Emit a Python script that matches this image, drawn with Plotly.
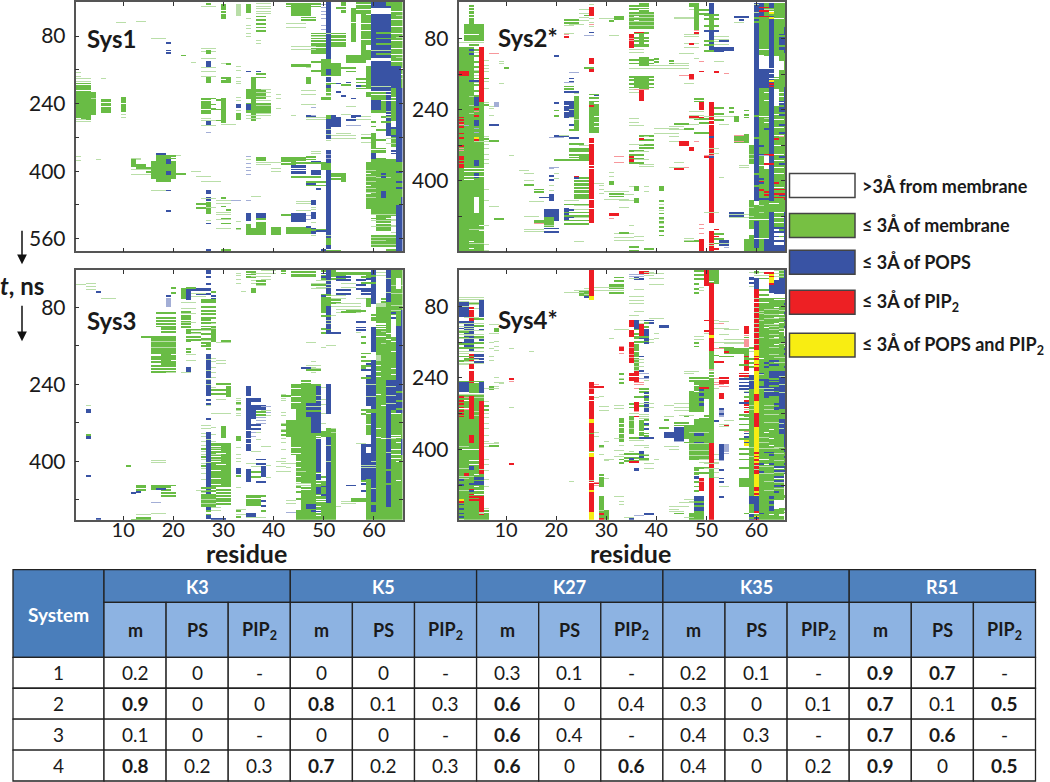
import numpy as np
import plotly.graph_objects as go

STATE = {'w':0,'g':1,'b':2,'r':3,'y':4,'G':5,'B':6,'R':7}
STATE_COLORS = ['#FFFFFF','#69BC45','#3953A4','#ED1C24','#F7EC13','#B9DEA8','#A3AED6','#F7979B']

# each run: (first residue, last residue, t start, t end, state) or (first, last, [t of short contacts], state)
SYS1 = [
(1,3,190,272,'g'),(1,4,213,264,'g'),(1,1,[167,175],'G'),(1,3,[180,186],'G'),(1,3,[194,202,208],'w'),(2,3,[274,280],'g'),(1,3,[283],'G'),(1,2,[277],'G'),
(6,7,229,260,'g'),(6,7,[237,247],'w'),(6,6,[181],'G'),(10,10,225,259,'g'),(10,10,[265,272],'G'),(10,10,[238],'w'),(4,4,[226],'G'),
(9,10,[46],'G'),(13,14,[45],'G'),(16,18,[85],'G'),(19,19,[95,112,119],'b'),(19,19,[139],'B'),(22,22,[124],'g'),(24,24,[142],'G'),(24,24,[228],'G'),
(16,20,376,417,'g'),(17,19,362,425,'g'),(17,20,[362,368],'g'),(17,18,[359],'b'),(19,19,372,380,'b'),(19,19,400,406,'b'),(1,1,[365],'G'),(5,5,[372],'G'),(1,1,[375],'G'),
(12,13,[368,372],'G'),(12,12,372,388,'g'),(13,14,382,392,'g'),(12,15,[396,407],'G'),(15,15,[390,400],'g'),(21,21,[362],'G'),(21,22,[405],'g'),(24,25,[400],'G'),(25,27,[413],'G'),(26,29,[424],'G'),(16,18,[444],'G'),(19,19,[444],'b'),(19,19,[493],'b'),
(26,28,[108,116,124],'G'),(27,27,112,120,'g'),(27,27,138,152,'b'),(26,28,[132,155,163],'G'),(27,27,178,188,'g'),(26,28,[174,190],'G'),
(26,27,226,262,'g'),(26,28,[232,240,252],'w'),(28,28,[226,240,250],'g'),(26,27,[266,275],'G'),(27,27,281,288,'b'),(26,28,[278,291],'G'),(27,27,[309],'B'),
(30,31,[145,150],'G'),(31,31,[145],'g'),(30,31,177,188,'g'),(30,30,226,285,'g'),(29,29,[230,252,278],'g'),(30,30,[240,254],'w'),(30,32,[288],'G'),(29,30,[182],'w'),
(33,33,[153,160],'G'),(33,33,[178,186,193],'G'),(33,33,[214,225,233,256,280],'G'),(33,33,240,248,'b'),(33,33,262,276,'g'),
(35,35,[163],'b'),(37,37,[163],'b'),(36,36,178,278,'g'),(35,38,206,228,'g'),(35,39,238,260,'g'),(37,39,[212,222,232,244,254,262,268],'G'),(35,35,240,252,'b'),(37,38,[168,176],'g'),(35,37,[268,274],'G'),(38,39,[206],'G'),
(41,41,[218,226,250],'G'),(44,44,[268],'G'),(47,47,178,192,'g'),(46,48,[208,218,228,242,254],'G'),(47,48,[268],'b'),(48,48,[268,248],'B'),
(44,47,[146,150],'g'),(48,50,[140,160],'g'),(47,47,[155],'G'),
(42,44,366,385,'g'),(42,44,[371,378],'w'),(45,46,[366,372],'g'),(47,48,[364,370],'g'),(48,49,[352,358],'G'),(48,49,376,380,'b'),(44,46,386,405,'b'),(48,49,399,408,'b'),(44,50,[378],'g'),(44,49,[412],'g'),(44,46,[392,399],'w'),(37,39,[370,378,385],'G'),(40,41,[370,378,392,400],'G'),(35,35,[365,380,390,398,406],'B'),(35,35,[372],'G'),(37,38,[366,372],'g'),
(47,48,[428],'b'),(47,51,[424,432],'g'),(49,49,[440],'b'),(52,54,[404,410,416],'g'),(54,54,408,425,'g'),(47,48,[420],'G'),
(27,27,445,452,'b'),(27,27,460,468,'b'),(27,27,474,500,'g'),(26,28,[464,472,486],'G'),(25,26,[486,476],'g'),(29,31,[468,476,497,503,515,525,535],'G'),(30,30,[462,482],'g'),(31,31,[490],'g'),(30,31,[510,522],'g'),(32,33,[468],'B'),(35,35,[468],'B'),(36,37,[458],'G'),(19,19,[493],'b'),(27,27,[522],'b'),(27,27,[516],'G'),(33,33,[518,538],'G'),(33,33,[535],'g'),
(35,35,500,516,'b'),(37,38,500,510,'b'),(35,38,526,550,'g'),(36,36,526,532,'w'),(37,38,[512,520],'g'),(40,41,532,550,'g'),(43,47,532,546,'g'),(44,46,498,518,'b'),(47,47,[505,515],'B'),(47,47,[530],'b'),(42,43,[503],'g'),(45,47,[470,476,484,492],'G'),
(48,48,468,478,'b'),(48,48,496,512,'b'),(48,48,534,546,'b'),(48,48,[486,490,520,553],'G'),(47,50,[538],'g'),(49,50,[540],'b'),
(27,27,584,590,'b'),(30,31,[585],'g'),(30,30,[588],'b'),(50,50,[585],'b'),(44,46,[588],'G'),(48,48,[588],'b'),
(50,50,[4,12,20,28,38,48,55,64,73,80,90],'B'),(50,50,[60,80],'G'),(51,51,0,135,'b'),(51,51,[72,86,100],'G'),(50,51,135,172,'g'),(52,53,144,172,'g'),(51,51,158,170,'b'),(51,51,178,186,'b'),(51,52,[190],'g'),(51,51,192,210,'g'),(51,51,[196,200],'b'),(51,51,[216],'g'),(51,51,[220],'G'),(50,51,[228,225],'g'),
(48,50,[72,78,84,90,96,102,108,114,118],'g'),(48,50,[80,100],'G'),(52,54,72,104,'g'),(52,54,[76,84,92,100],'w'),(44,48,[104,110],'G'),
(54,54,0,25,'g'),(54,54,[8,16],'w'),(56,56,14,92,'g'),(56,56,[46,60,74],'w'),(57,59,[0,6,12,18,24],'g'),(53,54,[12],'g'),(44,47,5,30,'g'),(43,49,[3,8],'g'),(46,48,[34,40],'g'),
(33,33,5,30,'G'),(35,35,5,24,'g'),(30,30,4,38,'g'),(30,30,[10,18,26],'w'),(37,39,[2,8,14,20,26],'G'),(35,35,[38,54,62,72,80],'G'),(37,38,[32,40,50,58,66],'g'),(37,37,[90,96],'G'),(27,27,[3],'g'),(26,28,[8],'G'),(43,46,[58,50],'G'),
(58,58,25,135,'g'),(59,59,30,100,'g'),(58,59,[50,66,88],'w'),(60,63,29,131,'b'),(64,64,40,120,'b'),(60,63,139,209,'b'),(60,63,[75,115,150,198],'G'),(61,63,[70,84,96,120],'g'),
(64,66,0,205,'g'),(60,63,0,12,'b'),(63,66,[0,4],'g'),(64,66,[20,40,56,72,90,108,122,140,156,170,190],'w'),(65,66,[30,48,82,100,130,150,180],'G'),(64,65,150,200,'b'),(65,66,[10,22],'G'),
(59,59,115,135,'g'),(55,58,126,142,'g'),(55,56,[155,163],'g'),(59,59,150,205,'g'),(57,59,[180,188,196,202],'g'),(54,55,[154],'g'),(54,55,[195],'g'),
(65,66,205,590,'b'),(64,64,205,280,'g'),(59,64,212,222,'g'),(60,64,225,260,'g'),(60,61,232,252,'b'),(63,63,213,315,'b'),(64,64,[225,240,255,290],'w'),(64,64,300,340,'g'),(62,63,[270,282],'g'),(63,63,[258,272],'G'),(60,60,311,343,'g'),(61,62,[300,325],'g'),(58,59,[312,322,332],'G'),(58,59,[320],'g'),(63,64,[322,335,345],'G'),(64,64,[350,356],'b'),(60,62,[355,350,345],'g'),(60,60,356,368,'b'),(61,62,[368],'g'),(64,64,[296,314],'b'),
(55,57,[291],'B'),(53,53,[190],'b'),(55,55,[188],'b'),(53,53,[211],'b'),(54,54,[220],'b'),(57,57,[196],'b'),(56,56,[226],'b'),(55,56,[246,228],'G'),(56,56,[270,276],'b'),(55,55,[277],'b'),(52,53,[272,282],'b'),(52,56,[305,315,322],'G'),(53,55,[310],'G'),(57,59,[270,276],'G'),(60,60,[282,292],'g'),
(59,66,378,476,'g'),(60,64,370,378,'g'),(59,60,[398,413,424,440,450,462],'G'),(59,59,[405,420,432,452],'w'),(61,63,[395,415,447],'G'),(60,60,356,368,'b'),(62,62,[404,412],'b'),(62,62,446,462,'b'),(65,66,460,590,'b'),(60,60,476,502,'g'),(61,64,476,505,'g'),(60,64,[502],'G'),(59,59,476,488,'g'),(65,65,440,478,'g'),(65,66,[400,425,438],'b'),
(61,63,507,540,'g'),(61,63,[512,522,530],'w'),(60,64,[516,530],'G'),(60,62,[510],'g'),(60,64,550,578,'g'),(60,64,[556,564,572],'G'),(64,64,[514,528,545],'G'),(63,64,[565,585],'g'),(58,61,[588],'G'),(51,51,397,582,'b'),(51,51,[552,562,568],'G'),(51,51,558,572,'g'),(50,51,378,397,'g'),(51,51,350,378,'b'),(51,51,[360,368],'B'),(51,51,[590],'g'),(51,53,[586],'g'),
(51,51,268,275,'g'),(51,53,276,295,'b'),(52,52,268,276,'b'),(51,51,295,322,'b'),(51,51,[300,312],'G'),(51,51,[326],'G'),(56,57,[268],'b'),(54,55,[265],'G'),(58,59,[270],'G'),(47,50,[272,276],'G'),
(60,63,[218,264],'w'),(62,64,[232],'w'),
]

SYS2 = [
(1,3,99,560,'g'),(4,5,222,560,'g'),(5,5,99,222,'r'),(2,5,46,84,'g'),(3,3,5,44,'g'),(3,3,[8,16,24,32],'w'),(1,5,[88],'G'),(3,4,[92],'g'),(2,4,[70,80],'w'),(1,1,[46],'G'),
(4,4,[104,118,130,142,155,168,182,196,208],'g'),(4,4,[110,150,162,178],'G'),(1,2,154,163,'r'),(3,3,[104,113],'b'),(3,4,174,177,'b'),(4,4,212,230,'b'),(4,4,264,276,'b'),(4,4,[282,290],'B'),(4,4,[302],'y'),(4,4,[307],'r'),(4,4,[245],'R'),(4,4,[237,252],'r'),(4,4,354,364,'b'),(4,4,384,392,'b'),
(1,1,[256,262,268,278,292,302,320,344,350,356,362,368],'r'),(1,1,[272,326,332],'R'),(2,5,[372,378,383,390],'w'),(2,3,[396],'w'),(4,4,437,472,'w'),(2,2,[276],'w'),(3,3,[210,230,248],'G'),
(2,2,[275],'B'),(4,5,[310],'G'),(3,5,[510,525,540],'G'),(5,5,[500,512],'w'),(3,3,[536,552],'w'),
(6,6,[128,140,146,155,177,192,225,300,310,318,326,340,352,360,420,445,490,500,525,545,556],'G'),(6,6,[168,228,304],'g'),
(7,7,[113],'R'),(8,8,[113],'R'),(8,8,222,232,'B'),(7,8,[272],'b'),(7,8,[308],'g'),(8,8,[313],'G'),(7,7,[233],'G'),(10,10,[145],'g'),(9,9,[130],'G'),(9,9,[180],'G'),(9,9,[137],'G'),(11,11,[342],'G'),(7,7,[236,253],'G'),
(20,20,[118],'b'),(20,20,[225],'b'),(20,20,[240,252],'g'),(20,20,[258],'G'),(20,20,[277],'G'),(19,21,[302],'B'),(22,23,[68,51],'G'),(22,24,[37,43],'g'),(23,25,[48],'G'),(22,22,[70],'R'),(22,22,[75],'r'),
(27,27,8,28,'r'),(25,26,[15,22,32,38],'G'),(26,26,[26],'g'),(27,27,[2,35,42,52],'G'),(27,27,[48],'R'),(27,27,[64],'b'),(26,27,[72],'B'),(27,27,125,137,'r'),(27,27,145,155,'r'),(26,27,[145],'g'),
(27,28,[205,212,220],'g'),(27,28,228,290,'g'),(27,27,[230],'r'),(27,27,[225],'g'),(28,28,[240,255,268,278],'w'),(27,27,[208],'w'),(28,28,[206],'b'),
(27,27,305,495,'r'),(27,27,[317,364,372,442,462],'w'),(23,24,[157,170],'B'),(23,23,[168,176],'b'),(22,23,[178],'B'),
(22,23,220,257,'b'),(22,24,[199],'b'),(23,24,[273],'b'),(24,24,210,282,'g'),(22,22,[230,245],'w'),(23,23,[222,238,256],'G'),(24,24,[203,262],'G'),(23,24,[284],'g'),(22,23,[186,192],'g'),
(20,22,[299],'b'),(23,24,[303],'b'),(23,26,[326,332,340,346,352],'g'),(25,26,342,354,'g'),(20,24,[352],'g'),(19,20,[370],'B'),(25,26,[320],'G'),(23,25,[316],'g'),(21,22,[298],'G'),
(24,26,392,440,'g'),(24,26,[396,404,412,420,428,436],'w'),(24,26,[400,408,416,424,432],'g'),(24,24,[390],'r'),(24,24,[392],'b'),(29,29,[410,420,428],'G'),(28,29,[400,406],'G'),(19,19,[372],'B'),(19,19,[388,396],'b'),(20,20,[385,395],'G'),
(18,20,465,482,'b'),(19,20,482,503,'b'),(18,19,482,503,'g'),(20,20,490,505,'w'),(18,20,[506,515],'b'),(18,19,[500],'G'),(19,19,430,444,'b'),(17,19,[436],'b'),(15,17,[446],'G'),(19,19,[422,410,400],'G'),
(22,22,462,487,'b'),(23,23,[465,480],'b'),(22,26,[452,470,478,488,496],'g'),(24,26,[456,464,472,482,490],'G'),(14,15,[408],'g'),(14,15,[398,385],'G'),(13,14,[376],'G'),(16,17,[418,425],'g'),(8,9,[484],'g'),(8,9,[490],'G'),(7,8,[458],'G'),(14,16,[480],'G'),(16,17,[497],'R'),(16,18,[493,488],'g'),(14,17,[510,515],'G'),(24,25,[537],'G'),(22,24,[445],'G'),
(31,31,[380,390],'G'),(31,31,401,408,'g'),(31,33,[428,434],'g'),(30,34,[424,442],'G'),(31,32,[475,477],'r'),(31,31,[484],'R'),(33,34,[445,460],'G'),(35,36,[412,445],'G'),(36,36,413,422,'g'),(36,36,441,449,'g'),(34,35,[418,430],'G'),(38,38,[412,424],'G'),(41,41,413,422,'g'),(41,41,[445,460,472,482,492,502,512,522],'g'),(41,41,[452,467,487,497],'G'),
(32,35,[518,528,535,542],'G'),(35,36,[548,556],'g'),(38,39,[553,558],'g'),(33,34,[517],'g'),(36,37,[527,535],'G'),(35,35,[500],'G'),
(35,39,20,57,'g'),(37,38,0,20,'g'),(35,36,[5,12],'g'),(35,39,[24,32,40,50],'G'),(37,38,[8,14],'w'),(36,36,[38,30],'w'),(36,38,[76,84,92,96],'g'),(37,37,70,92,'g'),(35,35,70,100,'r'),(35,35,[78,84],'R'),(35,37,[104,110],'G'),(36,38,[66],'g'),(36,37,[64],'r'),(31,32,[72],'G'),(32,33,[30,35],'g'),(31,31,[38],'g'),(29,31,[35],'G'),
(35,39,[127,135],'g'),(37,38,123,140,'g'),(35,36,[135],'G'),(35,39,[146,152],'G'),(36,38,167,190,'g'),(35,39,[164,172,180,188],'g'),(37,37,195,218,'r'),(35,36,[194,200],'G'),(37,38,[190,192],'g'),(36,38,[194],'R'),(35,36,[260,268],'G'),(37,39,[298,306,318,325],'g'),(37,37,[304],'r'),(38,38,[300,312],'G'),(35,37,[275],'G'),
(35,35,340,360,'r'),(32,33,[345,358],'R'),(35,37,[332,340,348,358],'g'),(36,38,[352,334],'G'),(37,39,[362,368],'G'),(35,37,[318],'G'),(40,40,[125,130],'g'),(43,43,[128,135],'g'),(39,46,[146,140],'G'),(40,44,[282,292],'G'),(43,45,[278,284],'G'),(43,44,[300,310],'G'),(44,45,[372],'r'),(46,46,[370,382],'R'),(43,45,[370],'G'),
(44,46,[270],'g'),(46,47,[282],'g'),(44,47,[32,35],'G'),(47,47,[5,15],'G'),(48,48,5,60,'g'),(49,50,[15,22],'g'),(47,48,[0,4],'g'),(48,48,[60],'R'),(48,48,[66],'r'),(47,48,[80],'G'),(46,48,[70,75,90,100],'G'),(47,47,[90],'r'),(45,47,[112],'G'),
(49,49,[153],'r'),(52,52,[155],'r'),(54,54,[158],'R'),(45,46,[163,170],'R'),(47,47,161,170,'r'),(47,47,[173],'R'),(46,47,[180],'G'),(44,46,[137],'G'),(48,48,[125],'G'),(49,49,[130],'R'),(52,53,[130],'G'),
(51,51,0,22,'b'),(51,51,25,60,'g'),(50,52,[25,35,50],'g'),(51,51,62,100,'b'),(51,53,[98,102,107],'b'),(53,55,[100,104],'b'),(50,51,[85,92,107],'g'),(52,54,[75,82,87,92],'G'),(53,54,[85],'b'),(50,52,[60],'b'),(56,58,[30],'b'),(57,57,[36],'b'),(56,57,[42],'G'),
(51,51,225,495,'r'),(51,51,[265,273],'w'),(49,49,225,239,'r'),(49,49,256,262,'r'),(51,51,515,560,'r'),(51,51,[540,546],'G'),(49,49,533,560,'r'),(49,49,[518,525],'R'),(46,48,[534],'g'),(46,47,[530,535],'G'),(49,49,[498,506],'R'),
(45,46,311,321,'r'),(47,47,325,332,'r'),(48,48,[310],'R'),(50,50,[345],'r'),(50,51,[342],'R'),(51,51,[300,345],'b'),(49,50,[268],'g'),(48,50,[290,260],'g'),(47,48,[272,260],'G'),(47,49,[252,245],'G'),(47,48,[255],'r'),(48,49,[214,220],'g'),(49,49,[234],'r'),(52,53,[235,248,262],'g'),(52,54,[254,258],'G'),(53,54,[272],'G'),(50,55,[255],'G'),(56,56,255,266,'g'),(55,55,[235,245],'g'),(58,58,[240,250,256],'g'),(52,53,[540,530,518],'g'),(52,52,[508,525,552,558],'r'),(53,54,535,546,'b'),(53,54,[540],'G'),(54,54,[550],'B'),(55,57,[470,473,478],'b'),(55,58,[476,482],'G'),(48,50,[490],'R'),(50,52,[470],'G'),
(56,58,300,315,'g'),(58,58,294,300,'g'),(56,57,[298,310],'R'),(59,59,320,360,'g'),(59,59,[330,340,350],'G'),(51,52,[326,338],'G'),(53,53,[382,392],'G'),(57,58,[370,365],'G'),(44,45,[358],'G'),
(60,66,0,560,'g'),(59,66,445,560,'g'),(60,60,0,447,'b'),(60,60,[180,252,302,385,410],'g'),(61,61,0,35,'b'),(62,62,20,45,'g'),(63,63,30,445,'b'),(63,63,0,10,'b'),(62,63,[10,14],'G'),(63,63,[18,46],'w'),(63,63,[20,32],'y'),(64,65,[35],'w'),(60,61,[33,40],'g'),(60,60,[2,20],'G'),(61,62,[8,16,28],'r'),
(60,63,148,190,'b'),(61,62,100,146,'g'),(61,62,[104,116,124,132],'w'),(62,62,120,147,'w'),(61,61,118,146,'w'),(64,64,120,146,'w'),(61,61,120,138,'w'),(64,65,130,150,'w'),(63,65,[146,158,168],'w'),(64,64,152,165,'w'),(65,65,150,185,'g'),(64,65,[146],'w'),(63,63,[174],'y'),(63,63,[180,186],'r'),
(66,66,55,110,'b'),(65,65,70,105,'b'),(65,66,[95,72],'g'),(66,66,190,240,'b'),(65,66,220,245,'b'),(65,65,[230],'g'),(64,65,[200,210,225,240,250,262],'w'),(62,62,[200,218,240,268,282,300,320,342],'w'),(61,62,[255,276,330,350,365],'w'),(64,64,195,230,'w'),(62,62,[260,300],'G'),
(64,65,[280,298,320,340,355,370,385,400,415],'w'),(61,62,300,360,'g'),(61,61,[320,340],'b'),(62,62,340,372,'w'),(62,63,[340,360],'r'),(61,62,[342,348],'B'),(61,61,[395,405],'b'),(65,66,[250,272,290,345,360,430],'b'),(65,65,[300,312],'R'),(62,62,[282],'b'),(64,64,[305,404],'r'),(66,66,[440],'r'),(64,66,[418,428,437],'r'),
(61,61,[400,420],'r'),(59,59,[460,480],'G'),(62,62,[425,430],'r'),(59,62,[486],'w'),(63,64,[450],'w'),(60,60,447,452,'w'),(60,60,490,550,'b'),(59,59,510,520,'w'),(59,59,[530,537],'w'),(63,66,505,560,'b'),(64,65,510,545,'w'),(64,65,[515,525,535],'b'),(65,65,[510,525],'g'),(63,63,470,505,'b'),(62,62,490,560,'g'),(62,62,530,560,'b'),(59,59,530,560,'g'),(58,59,533,560,'g'),(60,62,[530],'w'),
(61,61,[456,470],'G'),(61,62,[440],'b'),(66,66,470,510,'b'),(64,65,[470,482,494],'w'),
]

SYS3 = [
(1,2,[33],'G'),(3,4,[31,37,43],'G'),(5,5,[47],'b'),(6,8,[60],'G'),(3,3,[283],'G'),(3,3,293,299,'b'),(3,3,346,352,'b'),(3,3,[344],'g'),(3,3,[428],'b'),(5,5,518,522,'b'),(11,11,[408],'g'),(16,18,[398,403],'G'),
(13,14,[448,452,458],'g'),(12,12,[465],'b'),(13,13,[462],'b'),(16,20,[448],'g'),(16,17,450,458,'g'),(18,19,[452,458],'g'),(18,20,[464,470],'g'),(17,18,[456],'b'),(16,17,[485],'B'),(13,15,[510],'G'),(13,15,[516,520],'g'),(16,18,[508],'G'),(12,13,[520],'g'),
(16,20,140,170,'g'),(18,20,170,200,'g'),(16,18,[172,182],'g'),(16,20,[186,192,200,206,212],'g'),(16,20,[150,162],'G'),(20,20,[178,190],'w'),(14,15,[140],'g'),(18,20,[120,125,130],'g'),(17,20,[90,100,106,113,118],'g'),(19,19,[55],'b'),(19,19,60,78,'B'),(20,20,[38,48],'g'),(19,20,[214],'G'),
(22,22,40,60,'g'),(23,23,42,62,'b'),(23,24,[38],'g'),(24,27,[43],'b'),(25,27,[40,50],'b'),(24,26,[50,56],'G'),(28,28,[54,60],'b'),(28,28,[46],'g'),(22,24,[66,70],'G'),
(22,23,88,122,'g'),(22,24,[82,92,110],'G'),(22,23,[95,106,116],'w'),(23,25,[126,132,140,146],'g'),(24,27,[120,128,134],'G'),(26,27,[152,158],'g'),(23,23,[130,148,164,170],'g'),(23,24,[178,190],'G'),(23,23,205,212,'b'),(22,23,[214],'G'),
(27,27,[2,6,16],'b'),(27,27,[30],'b'),(26,28,[62,68,78,86,92,100,110,118],'g'),(26,27,[104,124,134,144],'g'),(27,27,[60],'w'),(28,28,120,150,'g'),(27,27,[156,164],'g'),(26,27,[148],'G'),(30,31,[148],'g'),(29,31,[152],'G'),(28,28,[112,125],'G'),
(27,27,178,225,'b'),(27,27,[188,210],'G'),(28,28,[186,192,205,214],'G'),(29,30,[190,196],'G'),(27,27,232,262,'b'),(27,27,[228,240],'G'),(27,27,[270,278],'b'),(28,28,[225,246],'G'),(27,27,[310],'b'),(27,27,[282],'G'),(26,27,[325,330,340],'G'),
(27,27,338,505,'b'),(27,27,[355,402],'G'),(26,26,[342,348,358,366,378,384,396,405,415,425,436,450,465],'G'),(26,26,[372,388,408],'g'),(28,28,[328,345,358],'G'),(31,31,245,265,'g'),(28,30,[250,258],'g'),(29,30,[240,270],'G'),(30,30,326,350,'g'),(28,31,[286,300],'G'),(29,31,[238],'g'),
(28,31,362,452,'g'),(28,29,[368,376,388,400,418,434,446],'w'),(28,29,[372,384,396],'G'),(29,30,[382,406],'w'),(29,31,[458,464,470,476],'g'),(28,29,[482,495,500],'G'),(26,28,468,492,'g'),(29,31,[480,486],'g'),(26,28,[478,486],'G'),(27,27,[500,510,516],'g'),(26,28,[455,460],'g'),(25,26,[460],'G'),
(27,27,[512,517],'b'),(28,30,[519],'b'),(29,30,[505],'G'),(33,33,[500,514],'g'),(33,33,[268,273,280,287,294,300,304],'G'),(33,33,[276,290],'g'),(33,33,348,357,'g'),(33,33,[370,385,392,400],'G'),(33,33,415,425,'b'),(33,33,[428],'g'),(33,33,[455],'G'),(33,34,[498,505,511],'G'),
(33,33,[8,14,22,30],'G'),(35,36,[4,10,16],'g'),(36,37,[8,16,24,30],'G'),(38,39,[3,9,16,22],'G'),(37,38,[24,30],'g'),(36,36,40,48,'g'),(37,38,[34],'G'),(34,34,[46],'G'),(40,40,[2,8],'G'),(42,42,[3,8],'g'),
(35,35,245,262,'b'),(35,35,268,376,'b'),(35,35,[335,352,362],'w'),(36,37,268,274,'b'),(36,38,282,293,'b'),(36,36,294,310,'b'),(37,37,296,306,'w'),(38,39,[285,298,304],'B'),(37,38,[308,314,320],'B'),(38,39,[295,305],'G'),(37,38,[296,302],'g'),(36,37,[322,330],'b'),(36,36,[338,348],'B'),(37,37,[338,354],'G'),
(35,37,470,490,'g'),(38,38,[480,490],'b'),(35,37,[476],'w'),(38,38,[470,500],'g'),(35,36,[508,512],'b'),(35,38,[505,516],'G'),(35,35,416,440,'b'),(38,38,410,430,'b'),(37,38,[395,405],'b'),(36,37,[420,430],'g'),(37,38,[440],'b'),(35,36,[394,404],'G'),(36,37,[378],'G'),(38,39,[368],'G'),(36,37,[410],'G'),(39,39,[408,432],'G'),
(42,42,[260,268,272,286,298,305,320,332,340,352,360,375,392,405],'G'),(42,43,[262],'g'),(42,44,[322,334,345],'g'),(41,42,[400,410,420],'G'),(43,44,[480,486],'G'),(42,43,[420,395],'G'),(43,45,[507],'B'),(43,44,[405,412],'G'),
(44,49,240,290,'g'),(44,45,[248,264,276],'w'),(45,49,290,315,'g'),(43,49,315,348,'g'),(44,49,348,385,'g'),(45,49,385,440,'g'),(44,45,[370,382,400,412,430],'w'),(45,46,[395,420],'G'),(46,50,440,490,'g'),(45,46,[452,462,476],'g'),(45,47,[444,448],'G'),(46,47,[447,453,458],'w'),(46,50,490,521,'g'),(45,46,500,521,'g'),(46,47,[232,238],'g'),(47,49,[200,206],'G'),(46,47,[204],'b'),
(47,49,278,306,'b'),(48,49,305,340,'b'),(49,49,245,278,'b'),(49,49,355,420,'b'),(49,49,[262,272],'G'),(50,50,[246,270,280,300,320],'G'),(47,49,[295],'g'),(47,49,[284],'G'),(49,49,425,436,'b'),(49,49,[424,438,444,451,470],'w'),(49,49,455,466,'b'),(47,48,488,497,'b'),(48,49,[500],'b'),(49,50,[478,482,492,500,506,512],'w'),(50,50,[350,368,382],'w'),(49,50,[340,348,352],'w'),
(51,51,240,300,'b'),(51,51,348,487,'b'),(51,51,[366,400],'G'),(51,52,330,348,'g'),(50,50,336,348,'g'),(52,52,348,521,'g'),(50,52,487,521,'g'),(52,52,[330,338],'G'),(50,50,[430,440,458],'g'),(50,50,[450,468],'b'),(53,53,[492],'G'),(54,56,[482,486],'G'),(56,58,[480,476],'g'),(55,56,[448],'b'),(52,53,[450],'G'),(51,52,[310,320],'w'),
(50,52,[2,8,14,20],'g'),(51,51,2,50,'b'),(52,54,[6,12,20],'g'),(49,51,[25,32,38],'G'),(50,50,[8,16],'b'),(53,58,[6,10],'g'),(44,48,[4,10,15],'g'),(48,50,[30,35,40],'G'),(48,50,[32],'g'),(51,51,[52,60],'G'),
(51,51,[60,68,74,80,88],'g'),(50,52,[62,78,96],'G'),(50,51,[52,58],'g'),(50,51,58,90,'g'),(51,51,78,96,'b'),(51,51,100,118,'b'),(51,51,[106,112],'G'),(50,51,[96,124,132],'g'),(51,51,[122,128],'b'),(52,53,[62,70],'g'),(53,55,[16,22,42,50],'b'),(54,56,[30,38],'G'),(52,54,[54,60],'G'),(53,57,[90,84,78,72],'G'),(55,58,[86],'g'),(57,58,[22,32,40],'b'),(58,59,[44,50],'b'),(58,59,[16,28],'g'),(57,59,[6,10],'g'),(57,59,[60],'G'),(54,56,[88],'g'),(51,53,[132],'b'),(50,50,[55],'b'),(57,58,[108,120,126],'b'),(57,57,[132],'G'),(51,52,[158],'G'),(47,48,[153],'G'),(50,50,[162],'G'),(48,48,[192,204,215],'G'),(47,49,[208],'g'),
(60,60,2,72,'b'),(61,62,[6,15],'G'),(59,60,[20,40,50],'b'),(60,60,80,88,'w'),(59,59,60,78,'g'),(59,60,[14,28],'g'),(60,60,123,170,'b'),(60,60,190,300,'b'),(59,60,232,282,'b'),(59,60,[240,264],'G'),(61,62,72,92,'G'),(60,61,[95,100,105],'g'),
(58,59,[175,190,200],'g'),(58,58,[140,153,182,205],'g'),(59,59,[196,220,227],'b'),(58,59,[208],'b'),(58,59,[225],'g'),(58,60,[292,300],'g'),(62,62,[60,68,80],'g'),(61,63,80,110,'g'),
(59,60,296,345,'g'),(60,60,300,365,'b'),(58,60,365,437,'b'),(57,58,[362],'G'),(58,60,[408,412],'G'),(58,59,[435,445,460],'b'),(58,59,[438],'g'),(60,60,437,503,'b'),(59,59,437,521,'g'),(60,60,[400,456],'G'),(60,60,505,521,'g'),(60,60,[484,488],'g'),(60,60,490,505,'b'),(59,59,370,380,'w'),(59,59,[300,322],'w'),
(61,62,157,521,'g'),(61,63,116,160,'g'),(61,62,[118,124,140,230],'w'),(62,62,[130,154],'G'),(61,61,180,190,'G'),(61,61,[200,212,222,260,330,350],'w'),(62,62,[282,352],'w'),
(63,63,2,70,'b'),(63,63,[20,48],'G'),(64,66,2,120,'g'),(64,66,[10,34,50,76,86],'G'),(65,65,20,40,'w'),(63,63,[110],'g'),(63,63,70,116,'g'),(64,64,96,120,'w'),(64,64,[90,100],'b'),(66,66,86,120,'b'),
(63,64,120,230,'g'),(63,63,170,230,'g'),(65,66,118,400,'b'),(64,64,120,140,'w'),(63,63,[135,146],'w'),(64,64,[150,170,206,218],'w'),
(63,63,230,521,'b'),(64,64,230,294,'b'),(64,64,294,521,'g'),(65,66,300,521,'g'),(64,65,[300,340,350],'w'),(65,66,[254,272,290,310,325,336,345,360,372,385,392],'g'),(63,64,[245,262,278,352],'G'),(64,65,[346,375,385,392],'w'),(65,65,[360,395,400,438],'w'),(63,63,[340,380],'G'),(64,66,[410,422,440],'g'),(63,63,495,521,'g'),(63,63,[416,444],'g'),(61,63,502,521,'g'),(61,61,[340],'G'),(66,66,355,385,'b'),
]

SYS4 = [
(1,2,70,103,'b'),(5,5,66,103,'b'),(1,5,[60,64],'G'),(3,4,[64,70,76,84],'G'),(3,3,[82,88],'r'),(3,4,[72],'g'),(1,2,[68,80,92],'G'),(2,3,115,168,'b'),(1,1,[115,128,150,160],'b'),(3,3,95,112,'r'),(2,4,[105,112],'G'),(2,3,[128,145,150],'G'),(1,5,[118,125,134,142,152],'G'),(4,5,[106,122,146,160,170],'g'),(5,5,[130,155],'b'),(1,2,[136,148],'g'),(3,3,168,180,'b'),(1,5,[174,180],'G'),(1,3,[172,162],'g'),
(1,2,[190,200],'g'),(3,3,186,200,'r'),(3,3,207,218,'r'),(3,3,225,262,'r'),(2,3,[190,196],'g'),(4,5,186,193,'b'),(4,5,[197,203],'b'),(1,5,[206],'G'),(1,2,[184],'G'),(4,4,[199],'G'),(2,3,[203],'G'),(1,2,[211],'G'),
(1,2,248,270,'b'),(5,5,248,273,'b'),(3,4,252,272,'g'),(4,4,[258],'g'),(1,5,[246],'g'),(7,7,[258,262],'g'),(6,8,[263],'G'),(8,8,[238,250,258,262],'G'),(9,9,[250,252],'G'),(4,4,[274,278],'w'),
(1,5,278,557,'g'),(1,5,[276,282],'G'),(1,2,[290,308],'w'),(1,1,[280,290,296,305,312,318,325],'r'),(2,2,[283,310],'R'),(3,3,281,330,'r'),(4,4,[315,322],'G'),(5,5,292,452,'r'),(5,5,[444],'G'),(3,3,368,385,'r'),(1,2,[345,392],'G'),(1,4,[398],'w'),(1,3,[440,458],'G'),(3,3,436,444,'b'),(3,4,[425,433],'w'),(4,5,[461,465,470],'b'),(3,5,[475],'b'),(5,5,508,545,'r'),(5,5,[538,542],'G'),(3,3,[488,498],'r'),(3,3,[490,504],'b'),(3,5,[505,510],'r'),(1,1,[510],'y'),(1,1,[520,530,540,548],'b'),(1,1,[515],'r'),(1,2,[465,490],'G'),(1,1,[466,476],'b'),(4,5,[490,498],'w'),(2,2,[455,452],'r'),(4,4,[500,520],'G'),(1,1,[555],'G'),(4,4,[455,480],'w'),
(6,6,[292,300,310,318,328,340,352,368,380,392,420,433,447,467,480,520,530,540],'G'),(6,6,[300,310,560],'g'),(6,6,[545,535],'g'),(6,6,540,557,'g'),(7,8,[390],'g'),(6,8,[387],'G'),(8,8,[383],'G'),(7,8,[120],'G'),(8,8,[130,140,150,158,168,178],'G'),(8,8,128,136,'g'),(7,7,[140,160,175],'G'),(7,7,[192,200],'G'),(6,9,[462],'G'),(7,8,[263],'G'),(10,10,[170],'G'),(11,11,[175],'G'),(11,11,[240,246],'R'),(11,11,[241],'r'),(11,11,[240],'r'),(11,11,[430],'r'),(11,11,[305],'G'),(15,15,[180],'G'),(19,19,[345],'R'),(23,23,[470],'G'),
(27,27,-1,60,'r'),(27,27,[62],'y'),(27,27,59,63,'y'),(27,27,[15,25],'r'),(26,26,[58],'b'),(25,26,[46,50,54],'g'),(24,26,[44],'G'),(22,25,[48,52],'G'),(26,26,[40,54],'G'),(27,27,250,274,'r'),(27,27,[262,268],'R'),(28,28,[254],'R'),(28,29,[258],'r'),(27,27,280,538,'r'),(27,27,[336],'y'),(27,27,332,338,'y'),(27,27,[290,406,472],'w'),(27,27,[362,402],'g'),(27,27,[412],'y'),(27,27,408,412,'y'),(27,27,[490],'y'),(27,27,539,557,'y'),(28,29,[473],'r'),(28,29,[472,478],'R'),(27,27,[468],'G'),
(29,29,462,480,'g'),(30,30,[465],'G'),(29,29,[455,460],'g'),(28,28,[370,360],'G'),(29,29,505,557,'g'),(30,30,535,557,'g'),(29,29,[552],'r'),(29,29,[520,535],'G'),(29,29,[543],'r'),(30,30,[540],'g'),(29,29,[280,395,410],'G'),(30,30,[380,425],'G'),(28,28,[283],'G'),(29,30,[303,312],'G'),(29,29,[390],'g'),(32,33,[505],'G'),(33,33,[514,522],'G'),(30,31,[420],'G'),(32,33,[415],'G'),(32,33,[150],'G'),(31,31,[153],'G'),
(31,33,[30,36,38,48],'g'),(32,33,[15,22],'g'),(28,33,[38,44],'G'),(33,33,[175,168],'R'),(33,33,[185],'R'),(33,33,170,178,'r'),(33,33,[231,240,250],'g'),(33,33,[240],'G'),(33,33,330,380,'g'),(33,33,[340,350,362,375],'w'),(33,33,[410,384,390],'G'),(32,33,[400],'G'),(33,33,[420,428],'g'),(32,33,[300,308],'G'),(32,33,[400,375],'G'),
(36,36,15,20,'b'),(35,37,[8,13],'B'),(35,37,[18,34],'G'),(37,37,[18],'b'),(37,38,[4,3],'r'),(38,39,[5,10],'G'),(39,41,[-1,6,18,30],'G'),(35,37,[52,58,66,74],'G'),(36,37,[42,90],'G'),(35,36,[100],'G'),
(35,35,110,125,'r'),(36,36,110,130,'b'),(36,36,[130,140],'g'),(35,35,[130],'G'),(35,35,135,146,'r'),(37,37,120,145,'r'),(38,38,130,145,'b'),(37,38,[110,118],'G'),(38,39,[110,117],'b'),(38,38,[116,125],'g'),(39,41,[107,113],'G'),(41,41,122,126,'b'),(42,42,122,126,'b'),(36,38,[146,150,158],'g'),(38,38,[154,160],'b'),(37,38,[150],'b'),(39,39,[160,155],'G'),(40,40,[152,140],'G'),(32,34,[133],'G'),
(35,35,160,205,'r'),(35,35,[172,186,194],'R'),(36,36,165,225,'g'),(36,36,[170,180,194],'w'),(36,36,225,250,'r'),(35,35,230,245,'r'),(35,36,[236],'w'),(36,37,[215,222],'G'),(37,37,[190,222],'b'),(36,37,[198,205],'G'),(38,38,[236],'b'),(38,38,[245],'G'),(37,38,[230,240],'B'),(36,37,[250,255,262],'R'),(37,38,[262,270],'g'),(38,38,278,290,'g'),(36,37,[280,300],'g'),(38,38,[273,280],'b'),
(35,36,[296,304],'g'),(36,36,295,315,'r'),(35,36,[318],'G'),(36,36,[314],'R'),(37,37,[296],'G'),(38,38,295,315,'b'),(37,38,[320,325,330],'G'),(38,39,[296,304],'G'),(35,35,325,365,'g'),(35,35,[334,352],'G'),(36,36,[325],'r'),(37,37,335,375,'g'),(37,37,[344,358,370],'w'),(38,38,[340,352],'b'),(38,38,[333,345,362],'g'),(38,38,[368],'g'),(37,39,[372],'b'),(36,38,[390,384],'G'),(35,37,[378],'G'),(35,35,[385,402],'G'),(35,36,[372],'g'),
(37,37,402,418,'b'),(34,36,[408,416,425],'g'),(35,35,[418],'b'),(35,36,[426],'r'),(37,38,[410,418],'g'),(37,38,[425],'G'),(36,36,[440,444],'b'),(38,38,[395,410],'G'),(36,37,[540,547],'B'),(34,35,[550],'G'),(35,35,[553],'b'),(36,36,[557],'B'),(38,39,[543],'b'),(40,40,[420],'G'),(38,39,[440,430],'G'),
(44,45,[338,345],'g'),(42,42,[332],'g'),(41,42,[350],'g'),(44,46,350,360,'b'),(42,45,361,372,'b'),(44,45,372,378,'b'),(44,45,[381],'B'),(42,44,[392],'G'),(42,43,[385],'G'),(43,44,[398],'G'),(42,43,[300,325],'G'),(44,46,[296,305,312],'G'),(45,47,[322],'G'),(43,44,[500,532],'G'),(46,47,[500,510],'G'),(47,49,[515],'G'),(43,46,[527],'G'),(44,45,[541],'g'),(46,48,[225],'G'),
(47,50,345,420,'g'),(46,46,345,372,'g'),(48,50,332,345,'g'),(46,48,[372,382],'g'),(46,46,[325,338],'g'),(47,50,[360,386,400,412],'G'),(48,49,[362,366],'b'),(48,49,[382],'b'),(49,50,[330],'g'),(49,50,[420,428],'G'),
(47,49,285,315,'g'),(48,50,250,285,'g'),(49,49,262,300,'b'),(47,47,270,285,'g'),(49,49,[270,280,293],'g'),(48,48,[256,270],'w'),(47,50,[245,238],'g'),(48,48,[168,160],'g'),(48,49,[146,155],'G'),(48,49,[0,8,18],'g'),(48,48,[28,40,48],'g'),(49,49,[38,44],'G'),(46,47,[230],'G'),(49,50,[260],'r'),(50,50,[255,268],'g'),(50,50,[322,330,340],'g'),
(48,49,505,557,'g'),(47,49,540,557,'g'),(48,49,505,535,'b'),(48,49,[515,525],'g'),(49,49,465,490,'r'),(49,49,[470],'R'),(48,48,[445,452,470,480,490],'g'),(48,48,[458,462],'b'),(48,50,[450,438],'g'),(46,47,[540,550],'G'),(45,47,[517],'G'),(43,45,[537],'G'),
(50,50,-1,30,'r'),(51,52,-1,28,'g'),(51,51,[15,25],'w'),(51,51,28,140,'r'),(50,50,[30,110],'r'),(51,51,140,150,'y'),(51,51,[140],'r'),(50,50,[135],'r'),(50,50,[140],'G'),(51,51,150,180,'r'),(52,52,[110,118,128,150],'G'),(53,54,[115,130,143,128],'G'),(53,53,[118],'R'),(54,56,[133],'G'),(52,53,[175],'R'),(53,53,[172],'G'),(52,53,[203],'r'),(51,52,[188],'g'),
(51,51,180,385,'g'),(51,51,[225,232,238],'w'),(51,51,[222,248],'G'),(51,51,385,445,'r'),(51,51,445,465,'g'),(51,51,465,557,'r'),(51,51,[220],'R'),(52,52,[410,420,428],'G'),(52,52,[450,460],'G'),(50,52,[430,440],'G'),
(53,53,275,285,'r'),(52,53,[240,250,255],'R'),(53,54,[238,244,250],'r'),(53,54,[258],'R'),(52,52,[262],'G'),(53,53,310,325,'B'),(53,53,[308,318],'b'),(52,52,[335],'b'),(53,54,[342,348],'G'),(54,54,[345],'r'),(53,54,388,402,'b'),(54,54,388,402,'B'),(53,53,403,420,'b'),(53,53,[425],'B'),(54,54,[408],'B'),(53,53,[445,462,470],'b'),(53,53,[505],'b'),(53,53,[520],'G'),(53,54,[480],'G'),(54,55,[335],'G'),
(54,58,175,185,'g'),(53,55,[170,190],'g'),(54,54,[180],'r'),(52,58,[160],'G'),(54,57,[155,163],'G'),(57,58,[228,235],'r'),
(58,59,[125,135],'r'),(58,58,125,140,'r'),(58,58,[145,158,168],'R'),(58,58,[148,185],'g'),(58,58,155,170,'R'),(58,58,180,215,'g'),(58,58,[200,215],'r'),(58,58,202,222,'r'),(58,58,[190],'r'),(57,59,[240,248,256,263],'b'),(58,58,[238,270],'b'),(58,59,[270],'G'),(58,59,[290,298,305,315],'r'),(58,59,[295,310],'G'),(57,58,[295],'b'),(59,59,[302,320],'b'),(58,58,375,390,'y'),(58,58,[362,370,382],'b'),(58,58,[355],'r'),(58,59,[358],'R'),(58,58,[345],'G'),(57,58,[396],'g'),(57,59,[320,330,342,355,375,408,420,438],'g'),(58,59,[280,322],'g'),(57,59,[210],'g'),(58,59,[238],'G'),
(59,66,60,557,'g'),(59,59,60,230,'w'),(60,60,60,120,'w'),(59,59,[172,196,204,215],'g'),(59,59,[130,150,180],'G'),(57,59,465,480,'g'),(59,59,390,420,'g'),(59,59,[395,415],'G'),(59,59,420,445,'g'),(59,59,230,252,'w'),(59,59,[300,310],'G'),(59,59,235,262,'b'),(59,59,[245],'G'),(60,61,[60,68,76,90],'G'),
(60,60,18,40,'b'),(60,60,[6,10],'G'),(60,60,[2],'g'),(60,60,42,60,'r'),(60,60,[62,72],'G'),(60,60,[75],'b'),(60,60,66,80,'w'),(59,59,[14,18,26],'b'),(59,59,[5,36],'G'),(61,62,[-1,4,10],'G'),(61,62,[18,30],'g'),(60,60,[85],'g'),
(60,60,65,178,'r'),(60,60,[72,82,94,106,118,126,138,152,165],'G'),(60,60,178,196,'y'),(60,60,[190],'r'),(60,60,196,225,'r'),(60,60,[200,205,212],'y'),(60,60,225,277,'y'),(60,60,277,292,'r'),(60,60,292,318,'y'),(60,60,318,352,'r'),(60,60,351,404,'y'),(60,60,404,455,'r'),(60,60,[410,416,426],'y'),(60,60,[435,445],'G'),(60,60,455,485,'y'),(60,60,485,505,'r'),(60,60,[492,500],'y'),(60,60,[508,520],'g'),(60,60,530,540,'r'),(60,60,[548,556],'y'),(60,60,[552],'r'),
(59,60,505,535,'b'),(59,59,520,536,'g'),(59,59,540,557,'b'),(59,59,[550],'g'),(59,59,[505,518],'b'),(59,60,[542],'w'),(58,58,[540],'g'),
(64,66,60,85,'g'),(61,62,60,80,'g'),(63,66,20,50,'b'),(64,65,40,55,'b'),(61,62,[30,42],'w'),(63,63,5,30,'y'),(63,63,[12,28],'r'),(62,63,[5],'r'),(64,64,-1,20,'w'),(65,65,-1,18,'g'),(64,66,[0,6,12],'G'),(62,62,[48,58],'G'),(61,62,20,60,'w'),(63,63,50,60,'w'),(64,66,[55,60,64],'w'),(66,66,0,18,'b'),(65,66,18,50,'b'),(61,62,[42,54],'g'),
(60,62,[70],'w'),(64,64,[82,105,118,148,165],'w'),(66,66,[75,95,110,125,148,175],'b'),(65,66,[88,104,128,162],'G'),(61,61,[96,110,130,148],'G'),(62,64,[86,98,106,120],'G'),(63,64,[124,132,142,152,172,186],'G'),(65,65,[98,116,136],'w'),(62,62,[126,170],'w'),(66,66,130,145,'w'),(61,62,190,225,'g'),
(63,64,[200,210],'b'),(62,62,[205,215],'b'),(61,61,[190,196],'w'),(64,66,[195,204],'G'),(66,66,[185],'b'),(66,66,[214],'b'),(66,66,[166],'w'),
(62,66,225,296,'b'),(62,62,225,240,'g'),(63,64,[240,246,256,268,280],'g'),(65,66,[236,254,272],'G'),(62,63,[262,270,290],'G'),(61,61,[228,242,258],'b'),(61,61,[232,262],'G'),(62,64,285,296,'g'),(62,64,[300,310],'G'),(64,66,296,310,'b'),(64,64,[300],'g'),(65,66,310,333,'g'),(62,64,[320,338],'G'),(65,66,333,395,'b'),(65,65,365,395,'g'),(65,65,[340,352],'G'),(66,66,395,430,'g'),(66,66,[400,414,430,450,470],'b'),(61,64,[345,360],'w'),(61,64,[372,383,396],'G'),
(61,61,[345,358,378,392],'g'),(63,64,350,395,'g'),(63,63,[355,375,390],'w'),(64,65,[395,408,425],'G'),(62,63,[405],'b'),(63,63,[410,430],'b'),(64,66,[437,446,458,468,478],'b'),(64,66,[450,472,487,500],'G'),(64,65,[440,465,482],'w'),(61,63,[437,452],'G'),(61,62,[420,432],'w'),(61,61,[430,448],'b'),(62,63,[470,482,490],'G'),(64,64,[492],'b'),
(66,66,455,557,'w'),(64,66,512,530,'w'),(65,66,[500,505],'g'),(65,66,[530,538,552],'g'),(66,66,[535,549],'G'),(63,63,505,535,'b'),(63,63,[510,522],'g'),(63,64,[545],'w'),(64,65,540,557,'g'),(65,66,545,557,'w'),(65,65,[548,552],'g'),(61,62,[500,520],'G'),(61,61,[540],'b'),(60,60,[550],'b'),
]

PANELS = [("Sys1", SYS1, (75.5,402.5,0,250), (-0.7,590)),
          ("Sys2*", SYS2, (458.5,785,0,250), (-2.5,559)),
          ("Sys3", SYS3, (75.5,402.5,268.5,519), (2.3,521)),
          ("Sys4*", SYS4, (458.5,785,268.5,519), (-1,556))]
PANEL_LABEL_XY = [(111.5,37),(528,36),(111.5,319),(528,318)]
X_TICKS = [10,20,30,40,50,60]
Y_TICKS = [80,160,240,320,400,480,560]
Y_TICK_TEXT = ['80','','240','','400','','560']

LEGEND_TEXT = [">3Å from membrane","≤ 3Å of membrane","≤ 3Å of POPS","≤ 3Å of PIP<sub>2</sub>","≤ 3Å of POPS and PIP<sub>2</sub>"]
LEGEND_COLORS = ['#FFFFFF','#77C043','#3953A4','#ED2024','#F8ED12']
LEGEND_BOX = [(172,196),(212,236),(249,273),(289,313),(332,356)]

RESIDUES = ['K3','K5','K27','K35','R51']
SUBCOLS = ['m','PS','PIP<sub>2</sub>']
SYSTEMS = ['1','2','3','4']
TABLE = [
 ['0.2','0','-','0','0','-','0.3','0.1','-','0.2','0.1','-','*0.9','*0.7','-'],
 ['*0.9','0','0','*0.8','0.1','0.3','*0.6','0','0.4','0.3','0','0.1','*0.7','0.1','*0.5'],
 ['0.1','0','-','0','0','-','*0.6','0.4','-','0.4','0.3','-','*0.7','*0.6','-'],
 ['*0.8','0.2','0.3','*0.7','0.2','0.3','*0.6','0','*0.6','0.4','0','0.2','*0.9','0','*0.5'],
]

W, H = 1050, 782
FONT = "Lato"
INK = "#1a1a1a"
fx = lambda p: p / W
fy = lambda p: 1 - p / H

T_BINS = np.arange(-4, 600, 2.0)

def rasterize(runs):
    z = np.zeros((len(T_BINS), 66), dtype=int)
    for run in runs:
        r0, r1 = run[0], run[1]
        if len(run) == 5:
            i0, i1 = int((run[2] + 4) // 2), int((run[3] + 4) // 2)
            z[i0:i1 + 1, r0 - 1:r1] = STATE[run[4]]
        else:
            s = run[3]
            span = 1 if s in 'GBRw' else 2
            for t in run[2]:
                i = int((t + 4) // 2)
                z[i:i + span, r0 - 1:r1] = STATE[s]
    return z

n = len(STATE_COLORS)
cscale = []
for i, c in enumerate(STATE_COLORS):
    cscale += [[i / n, c], [(i + 1) / n, c]]

fig = go.Figure()
annos, shapes = [], []
def label(x, y, t, color=INK, size=19, xanchor="center"):
    annos.append(dict(x=fx(x), y=fy(y), xref="paper", yref="paper", text=t, showarrow=False,
                      xanchor=xanchor, yanchor="middle", font=dict(family=FONT, size=size, color=color)))

for k, (name, runs, (x0, x1, y0, y1), (t0, t1)) in enumerate(PANELS):
    sfx = "" if k == 0 else str(k + 1)
    fig.add_trace(go.Heatmap(z=rasterize(runs), x=np.arange(1, 67), y=T_BINS + 1, zmin=-0.5, zmax=n - 0.5,
                             colorscale=cscale, showscale=False, hoverinfo="skip", xaxis="x" + sfx, yaxis="y" + sfx))
    fig.update_layout(**{
        "xaxis" + sfx: dict(domain=[fx(x0), fx(x1)], range=[0.5, 65.7], anchor="y" + sfx, tickvals=X_TICKS,
                            showticklabels=k >= 2, ticks="inside", ticklen=4, tickcolor="#333", showgrid=False, zeroline=False,
                            showline=True, linecolor="#555", linewidth=1.5, mirror="ticks",
                            tickfont=dict(family=FONT, size=20, color=INK), ticklabelstandoff=-8),
        "yaxis" + sfx: dict(domain=[fy(y1), fy(y0)], range=[t1, t0], anchor="x" + sfx, tickvals=Y_TICKS, ticktext=Y_TICK_TEXT,
                            ticks="inside", ticklen=4, tickcolor="#333", showgrid=False, zeroline=False,
                            showline=True, linecolor="#555", linewidth=1.5, mirror="ticks",
                            tickfont=dict(family=FONT, size=21, color=INK), ticklabelstandoff=4),
    })
    lx, ly = PANEL_LABEL_XY[k]
    label(lx, ly, f"<b>{name}</b>", size=24)

for cx in (246, 630):
    label(cx, 552, "<b>residue</b>", size=25)

label(22, 284, "<b><i>t</i>, ns</b>", size=24)
for (ya, yb) in ((228, 263), (303, 340)):
    annos.append(dict(x=fx(22), y=fy(yb), ax=0, ay=ya - yb, xref="paper", yref="paper", axref="pixel", ayref="pixel",
                      text="", showarrow=True, arrowhead=2, arrowsize=1.3, arrowwidth=1.5, arrowcolor="#111"))

for txt, col, (a, b) in zip(LEGEND_TEXT, LEGEND_COLORS, LEGEND_BOX):
    shapes.append(dict(type="rect", xref="paper", yref="paper", x0=fx(789.5), x1=fx(855), y0=fy(b), y1=fy(a),
                       fillcolor=col, line=dict(color="#444", width=1.5)))
    label(860, (a + b) / 2, f"<b>{txt}</b>", size=18, xanchor="left")

# table
TX0, TSYS, TCW = 13, 104, 62.1
TY = [569, 602, 657, 688, 719, 750, 781]
cols = [TSYS + i * TCW for i in range(16)]
def cell(a, b, c, d, fill):
    shapes.append(dict(type="rect", xref="paper", yref="paper", x0=fx(a), x1=fx(b), y0=fy(d), y1=fy(c), fillcolor=fill,
                       line=dict(color="#222", width=1.3)))
cell(TX0, TSYS, TY[0], TY[2], "#4A7EBB")
label((TX0 + TSYS) / 2, 614, "<b>System</b>", "white", 19)
for i, r in enumerate(RESIDUES):
    cell(cols[3 * i], cols[3 * i + 3], TY[0], TY[1], "#4F81BD")
    label(cols[3 * i] + 1.5 * TCW, 587, f"<b>{r}</b>", "white", 18)
    for j, sc in enumerate(SUBCOLS):
        cell(cols[3 * i + j], cols[3 * i + j + 1], TY[1], TY[2], "#8DB3E2")
        label(cols[3 * i + j] + TCW / 2, 630, f"<b>{sc}</b>", INK, 18)
for ri, row in enumerate(TABLE):
    cell(TX0, TSYS, TY[ri + 2], TY[ri + 3], "white")
    label((TX0 + TSYS) / 2, (TY[ri + 2] + TY[ri + 3]) / 2, SYSTEMS[ri])
    for ci, v in enumerate(row):
        cell(cols[ci], cols[ci + 1], TY[ri + 2], TY[ri + 3], "white")
        t = f"<b>{v[1:]}</b>" if v.startswith("*") else v
        label(cols[ci] + TCW / 2, (TY[ri + 2] + TY[ri + 3]) / 2, t)

fig.update_layout(width=W, height=H, margin=dict(l=0, r=0, t=0, b=0), paper_bgcolor="white", plot_bgcolor="white",
                  annotations=annos, shapes=shapes, showlegend=False)
fig.write_html("out.html", config={"displayModeBar": False},
               post_script="document.body.style.margin='0';document.body.style.overflow='hidden';")
